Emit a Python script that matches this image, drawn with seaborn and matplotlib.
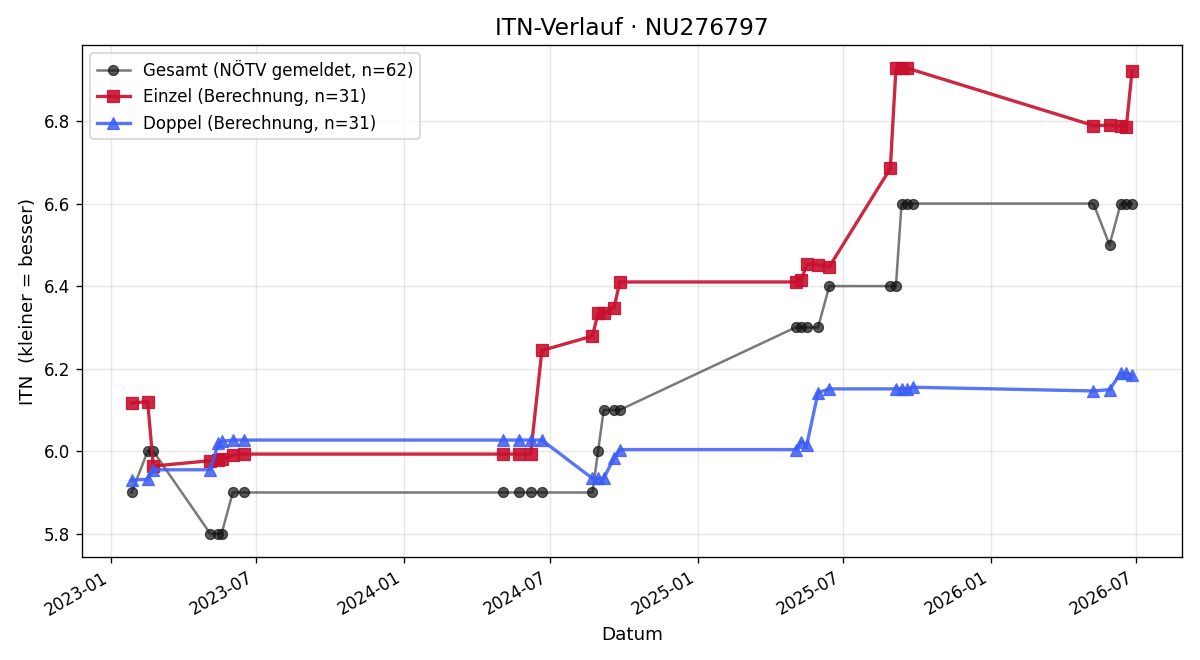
import pandas as pd
import matplotlib
matplotlib.use("Agg")
import matplotlib.pyplot as plt
import matplotlib.dates as mdates
import seaborn as sns

# --- Daten ---
gesamt_dates = ["2023-01-27", "2023-02-16", "2023-02-23", "2023-05-05", "2023-05-15", "2023-05-19",
                "2023-06-02", "2023-06-16", "2024-05-03", "2024-05-24", "2024-06-07", "2024-06-21",
                "2024-08-23", "2024-08-30", "2024-09-06", "2024-09-19", "2024-09-26", "2025-05-03",
                "2025-05-10", "2025-05-17", "2025-05-31", "2025-06-14", "2025-08-29", "2025-09-05",
                "2025-09-12", "2025-09-19", "2025-09-26", "2026-05-09", "2026-05-29", "2026-06-12",
                "2026-06-19", "2026-06-26"]
gesamt_itn = [5.9, 6.0, 6.0, 5.8, 5.8, 5.8, 5.9, 5.9, 5.9, 5.9, 5.9, 5.9, 5.9, 6.0, 6.1, 6.1, 6.1,
              6.3, 6.3, 6.3, 6.3, 6.4, 6.4, 6.4, 6.6, 6.6, 6.6, 6.6, 6.5, 6.6, 6.6, 6.6]

einzel_dates = ["2023-01-27", "2023-02-16", "2023-02-23", "2023-05-05", "2023-05-15", "2023-05-19",
                "2023-06-02", "2023-06-16", "2024-05-03", "2024-05-24", "2024-06-07", "2024-06-21",
                "2024-08-23", "2024-08-30", "2024-09-06", "2024-09-19", "2024-09-26", "2025-05-03",
                "2025-05-10", "2025-05-17", "2025-05-31", "2025-06-14", "2025-08-29", "2025-09-05",
                "2025-09-12", "2025-09-19", "2026-05-09", "2026-05-29", "2026-06-12", "2026-06-19",
                "2026-06-26"]
einzel_itn = [6.117, 6.120, 5.964, 5.977, 5.978, 5.980, 5.990, 5.993, 5.993, 5.993, 5.993, 6.244,
              6.279, 6.335, 6.334, 6.348, 6.410, 6.410, 6.415, 6.453, 6.451, 6.447, 6.685, 6.928,
              6.928, 6.928, 6.789, 6.790, 6.788, 6.786, 6.920]

doppel_dates = ["2023-01-27", "2023-02-16", "2023-02-23", "2023-05-05", "2023-05-15", "2023-05-19",
                "2023-06-02", "2023-06-16", "2024-05-03", "2024-05-24", "2024-06-07", "2024-06-21",
                "2024-08-23", "2024-08-30", "2024-09-06", "2024-09-19", "2024-09-26", "2025-05-03",
                "2025-05-10", "2025-05-17", "2025-05-31", "2025-06-14", "2025-09-05", "2025-09-12",
                "2025-09-19", "2025-09-26", "2026-05-09", "2026-05-29", "2026-06-12", "2026-06-19",
                "2026-06-26"]
doppel_itn = [5.930, 5.932, 5.955, 5.955, 6.020, 6.024, 6.027, 6.027, 6.027, 6.027, 6.027, 6.027,
              5.934, 5.934, 5.934, 5.984, 6.004, 6.004, 6.023, 6.016, 6.142, 6.151, 6.151, 6.151,
              6.151, 6.155, 6.146, 6.149, 6.189, 6.189, 6.184]

df_g = pd.DataFrame({"Datum": pd.to_datetime(gesamt_dates), "ITN": gesamt_itn})
df_e = pd.DataFrame({"Datum": pd.to_datetime(einzel_dates), "ITN": einzel_itn})
df_d = pd.DataFrame({"Datum": pd.to_datetime(doppel_dates), "ITN": doppel_itn})

# --- Plot ---
fig, ax = plt.subplots(figsize=(10, 5.5))

sns.lineplot(data=df_g, x="Datum", y="ITN", ax=ax, color="#404040", alpha=0.7,
             marker="o", markersize=6, linewidth=1.5, markerfacecolor="#111111",
             markeredgecolor="#111111", label="Gesamt (NÖTV gemeldet, n=62)")
sns.lineplot(data=df_e, x="Datum", y="ITN", ax=ax, color="#c8102e", alpha=0.9,
             marker="s", markersize=7, linewidth=2, markeredgecolor="#c8102e",
             label="Einzel (Berechnung, n=31)")
sns.lineplot(data=df_d, x="Datum", y="ITN", ax=ax, color="#3d5ef5", alpha=0.85,
             marker="^", markersize=7, linewidth=2, markeredgecolor="#3d5ef5",
             label="Doppel (Berechnung, n=31)")

ax.set_title("ITN-Verlauf · NU276797", fontsize=14)
ax.set_xlabel("Datum", fontsize=11)
ax.set_ylabel("ITN  (kleiner = besser)", fontsize=11)
ax.grid(True, alpha=0.3)
ax.legend(loc="upper left", fontsize=10)

ax.xaxis.set_major_locator(mdates.MonthLocator(bymonth=[1, 7]))
ax.xaxis.set_major_formatter(mdates.DateFormatter("%Y-%m"))
for lbl in ax.get_xticklabels():
    lbl.set_rotation(30)
    lbl.set_ha("right")

fig.subplots_adjust(left=0.068, right=0.985, top=0.932, bottom=0.156)
plt.savefig("out.png", dpi=120)
plt.close()
